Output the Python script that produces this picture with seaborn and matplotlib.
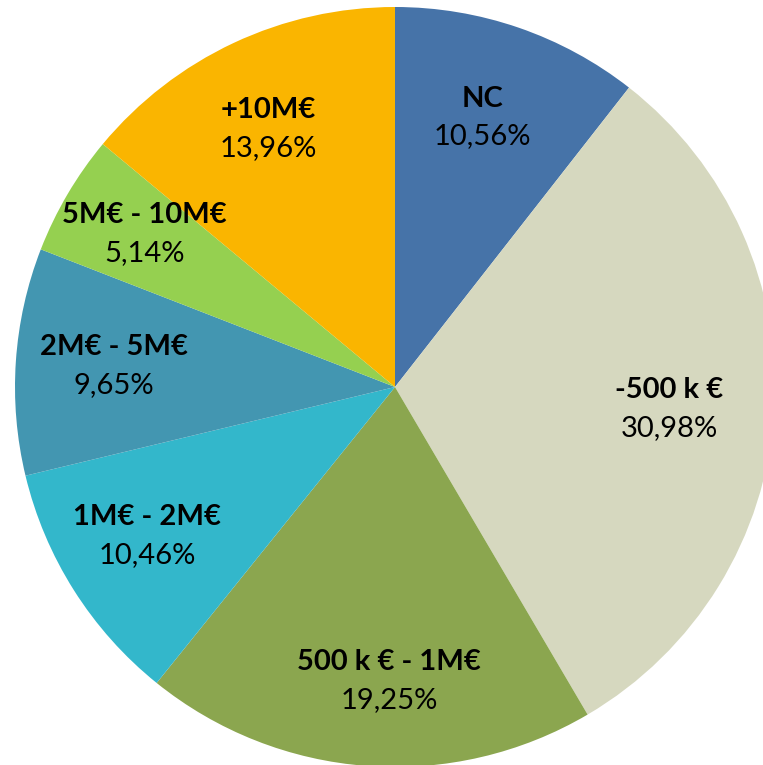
import matplotlib
matplotlib.use("Agg")
import matplotlib.pyplot as plt
import seaborn as sns
import numpy as np

categories = ["NC", "-500 k €", "500 k € - 1M€", "1M€ - 2M€", "2M€ - 5M€", "5M€ - 10M€", "+10M€"]
values = [10.56, 30.98, 19.25, 10.46, 9.65, 5.14, 13.96]
pct_labels = ["10,56%", "30,98%", "19,25%", "10,46%", "9,65%", "5,14%", "13,96%"]
colors = ["#4673A8", "#D6D8BF", "#8BA64F", "#33B7CB", "#4396B1", "#95D050", "#FAB500"]

# label nudges in pixels (right, down)
nudges = [(-5, 0), (-10, 3), (15, 10), (-7, -3), (3, -2), (-5, -8), (-6, 0)]

sns.set_theme(style="white")
plt.rcParams["font.family"] = ["Lato", "DejaVu Sans"]

fig = plt.figure(figsize=(7.63, 7.65), dpi=100)
ax = fig.add_axes([15 / 763, -2 / 765, 760 / 763, 760 / 765])
wedges, _ = ax.pie(values, colors=colors, startangle=90, counterclock=False,
                   radius=1.0, wedgeprops=dict(linewidth=0))
ax.set_xlim(-1, 1)
ax.set_ylim(-1, 1)
ax.set_aspect("equal")
ax.axis("off")

r_lab = 0.75
px = 1 / 380
for w, cat, pct, (nx, ny) in zip(wedges, categories, pct_labels, nudges):
    ang = np.deg2rad((w.theta1 + w.theta2) / 2)
    x, y = r_lab * np.cos(ang) + nx * px, r_lab * np.sin(ang) - ny * px
    ax.text(x, y + 0.05, cat, ha="center", va="center", fontsize=21, fontweight="bold", color="black")
    ax.text(x, y - 0.05, pct, ha="center", va="center", fontsize=21, color="black")

fig.savefig("out.png", dpi=100)
